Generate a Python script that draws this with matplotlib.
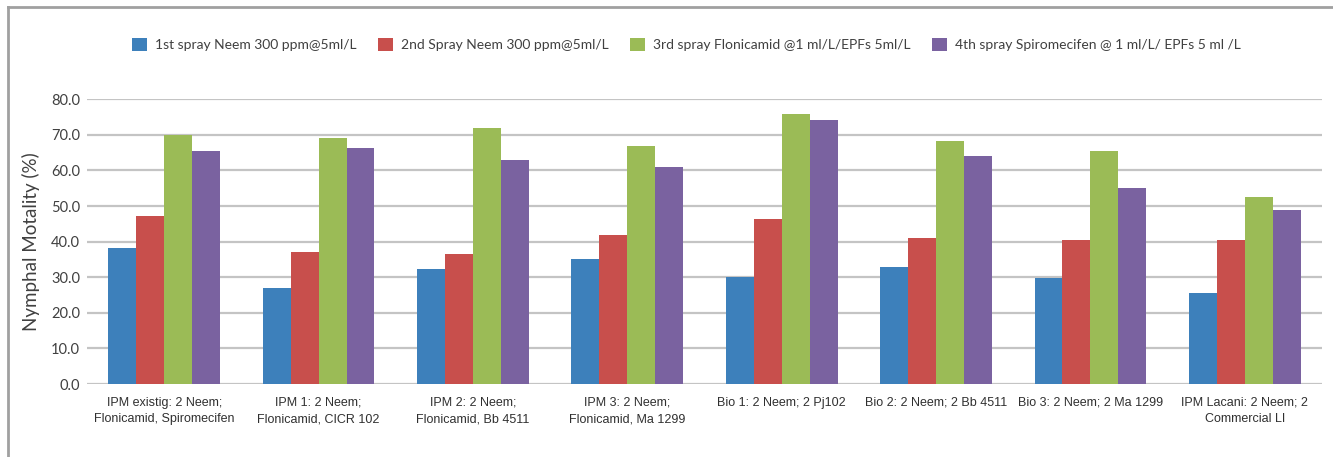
import matplotlib
matplotlib.use("Agg")
import matplotlib.pyplot as plt
from matplotlib.lines import Line2D
import numpy as np

categories = [
    "IPM existig: 2 Neem;\nFlonicamid, Spiromecifen",
    "IPM 1: 2 Neem;\nFlonicamid, CICR 102",
    "IPM 2: 2 Neem;\nFlonicamid, Bb 4511",
    "IPM 3: 2 Neem;\nFlonicamid, Ma 1299",
    "Bio 1: 2 Neem; 2 Pj102",
    "Bio 2: 2 Neem; 2 Bb 4511",
    "Bio 3: 2 Neem; 2 Ma 1299",
    "IPM Lacani: 2 Neem; 2\nCommercial LI",
]
series_names = [
    "1st spray Neem 300 ppm@5ml/L",
    "2nd Spray Neem 300 ppm@5ml/L",
    "3rd spray Flonicamid @1 ml/L/EPFs 5ml/L",
    "4th spray Spiromecifen @ 1 ml/L/ EPFs 5 ml /L",
]
spray1 = [38.3, 27.0, 32.2, 35.0, 30.1, 33.0, 29.9, 25.5]
spray2 = [47.1, 37.0, 36.6, 41.9, 46.3, 41.0, 40.5, 40.5]
spray3 = [70.1, 69.0, 71.8, 66.9, 75.8, 68.3, 65.4, 52.6]
spray4 = [65.4, 66.2, 62.9, 61.0, 74.2, 64.2, 55.1, 49.0]
yticks = [0, 10, 20, 30, 40, 50, 60, 70, 80]

colors = ["#3D80BB", "#C84F4C", "#9BBB56", "#7A62A0"]

fig = plt.figure(figsize=(13.33, 4.57), dpi=100)
ax = fig.add_axes([0.0653, 0.1597, 0.9264, 0.623])

x = np.arange(len(categories))
width = 0.181
all_series = [spray1, spray2, spray3, spray4]
for i, (vals, c, name) in enumerate(zip(all_series, colors, series_names)):
    ax.bar(x + (i - 1.5) * width, vals, width, color=c, label=name, zorder=3)

ax.set_xlim(-0.5, len(categories) - 0.5)
ax.set_ylim(0, 80)
ax.set_yticks(yticks)
ax.set_yticklabels([f"{v:.1f}" for v in yticks], fontsize=10.5, color="#404040",
                   family=["Lato", "DejaVu Sans"])
ax.yaxis.grid(True, color="#C4C4C4", linewidth=1.6, zorder=0)
ax.set_axisbelow(True)
ax.tick_params(axis="both", length=0)
ax.tick_params(axis="y", pad=5)
ax.tick_params(axis="x", pad=9)
for s in ax.spines.values():
    s.set_visible(False)

ax.set_xticks(x)
ax.set_xticklabels(categories, fontsize=9, color="#303030",
                   family=["Liberation Sans", "DejaVu Sans"], linespacing=1.55)

ax.set_ylabel("Nymphal Motality (%)", fontsize=13.5, color="#404040",
              family=["Lato", "DejaVu Sans"], labelpad=8)

handles, labels = ax.get_legend_handles_labels()
leg = fig.legend(handles, labels, loc="center", bbox_to_anchor=(0.515, 0.902), ncol=4,
                 frameon=False, handlelength=1.05, handleheight=1.05,
                 handletextpad=0.6, columnspacing=1.55,
                 prop={"family": ["Lato", "DejaVu Sans"], "size": 10})
for t in leg.get_texts():
    t.set_color("#404040")

# panel frame: top and left edges
fig.add_artist(Line2D([0.006, 0.006], [0.0, 0.985], transform=fig.transFigure,
                      color="#A0A0A0", linewidth=2))
fig.add_artist(Line2D([0.006, 0.999], [0.985, 0.985], transform=fig.transFigure,
                      color="#A0A0A0", linewidth=2))

fig.savefig("out.png", dpi=100, facecolor="white")
